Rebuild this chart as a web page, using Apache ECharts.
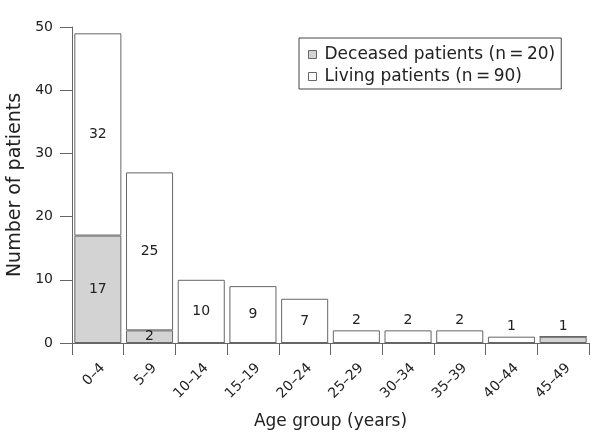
<!DOCTYPE html>
<html>
<head>
<meta charset="utf-8">
<script src="https://cdn.jsdelivr.net/npm/echarts@6/dist/echarts.min.js"></script>
<style>
  html, body { margin: 0; padding: 0; background: #fff; }
  #chart { width: 601px; height: 446px; }
</style>
</head>
<body>
<div id="chart"></div>
<script>
// age groups (en dash as in the figure)
var ageGroups = ['0–4', '5–9', '10–14', '15–19', '20–24', '25–29', '30–34', '35–39', '40–44', '45–49'];
var deceased = [17, 2, 0, 0, 0, 0, 0, 0, 0, 1];
var living = [32, 25, 10, 9, 7, 2, 2, 2, 1, 0];
var seriesNames = ['Deceased patients (n\u2009=\u200920)', 'Living patients (n\u2009=\u200990)'];

var font = 'DejaVu Sans';
var textColor = '#222';
var lineColor = '#666';

var chart = echarts.init(document.getElementById('chart'), null, { renderer: 'canvas' });

// label goes above the bar when it is the top segment and too short
function makeData(values, other, isTop) {
    return values.map(function (v, i) {
        var topSeg = isTop ? true : other[i] === 0;
        var item = { value: v, label: { show: v > 0 } };
        if (topSeg && v <= 2) {
            item.label.position = 'top';
            item.label.distance = 3;
        }
        return item;
    });
}

var option = {
    animation: false,
    backgroundColor: '#fff',
    textStyle: { fontFamily: font, color: textColor },
    grid: { left: 72, right: 12, top: 27, bottom: 103, containLabel: false, outerBoundsMode: 'none' },
    legend: {
        orient: 'vertical',
        left: 299,
        top: 38,
        padding: [8, 6, 4, 9],
        itemGap: 5,
        itemWidth: 8,
        itemHeight: 8,
        icon: 'rect',
        borderColor: '#444',
        borderWidth: 1,
        itemStyle: { borderColor: '#666', borderWidth: 1 },
        textStyle: { fontFamily: font, fontSize: 17, color: textColor, padding: [0, 0, 0, 3] },
        data: seriesNames
    },
    xAxis: {
        type: 'category',
        data: ageGroups,
        name: 'Age group (years)',
        nameLocation: 'middle',
        nameGap: 70,
        nameTextStyle: { fontFamily: font, fontSize: 17, color: textColor },
        axisLine: { lineStyle: { color: lineColor, width: 1 } },
        axisTick: { show: true, length: 12, interval: 0, lineStyle: { color: lineColor } },
        axisLabel: {
            interval: 0,
            rotate: 45,
            margin: 18,
            verticalAlign: 'top',
            fontFamily: font,
            fontSize: 14,
            color: textColor
        }
    },
    yAxis: {
        type: 'value',
        min: 0,
        max: 50,
        interval: 10,
        name: 'Number of patients',
        nameLocation: 'middle',
        nameGap: 46,
        nameTextStyle: { fontFamily: font, fontSize: 19, color: textColor },
        axisLine: { show: true, lineStyle: { color: lineColor, width: 1 } },
        axisTick: { show: true, length: 12, lineStyle: { color: lineColor } },
        axisLabel: { margin: 19, fontFamily: font, fontSize: 14, color: textColor },
        splitLine: { show: false }
    },
    series: [
        {
            name: seriesNames[0],
            type: 'bar',
            stack: 'total',
            barCategoryGap: '9%',
            itemStyle: { color: '#d3d3d3', borderColor: lineColor, borderWidth: 1 },
            label: { show: true, position: 'inside', fontFamily: font, fontSize: 14, color: textColor },
            data: makeData(deceased, living, false)
        },
        {
            name: seriesNames[1],
            type: 'bar',
            stack: 'total',
            barCategoryGap: '9%',
            itemStyle: { color: '#ffffff', borderColor: lineColor, borderWidth: 1 },
            label: { show: true, position: 'inside', fontFamily: font, fontSize: 14, color: textColor },
            data: makeData(living, deceased, true)
        }
    ]
};

chart.setOption(option);
window.addEventListener('resize', chart.resize);
</script>
</body>
</html>
